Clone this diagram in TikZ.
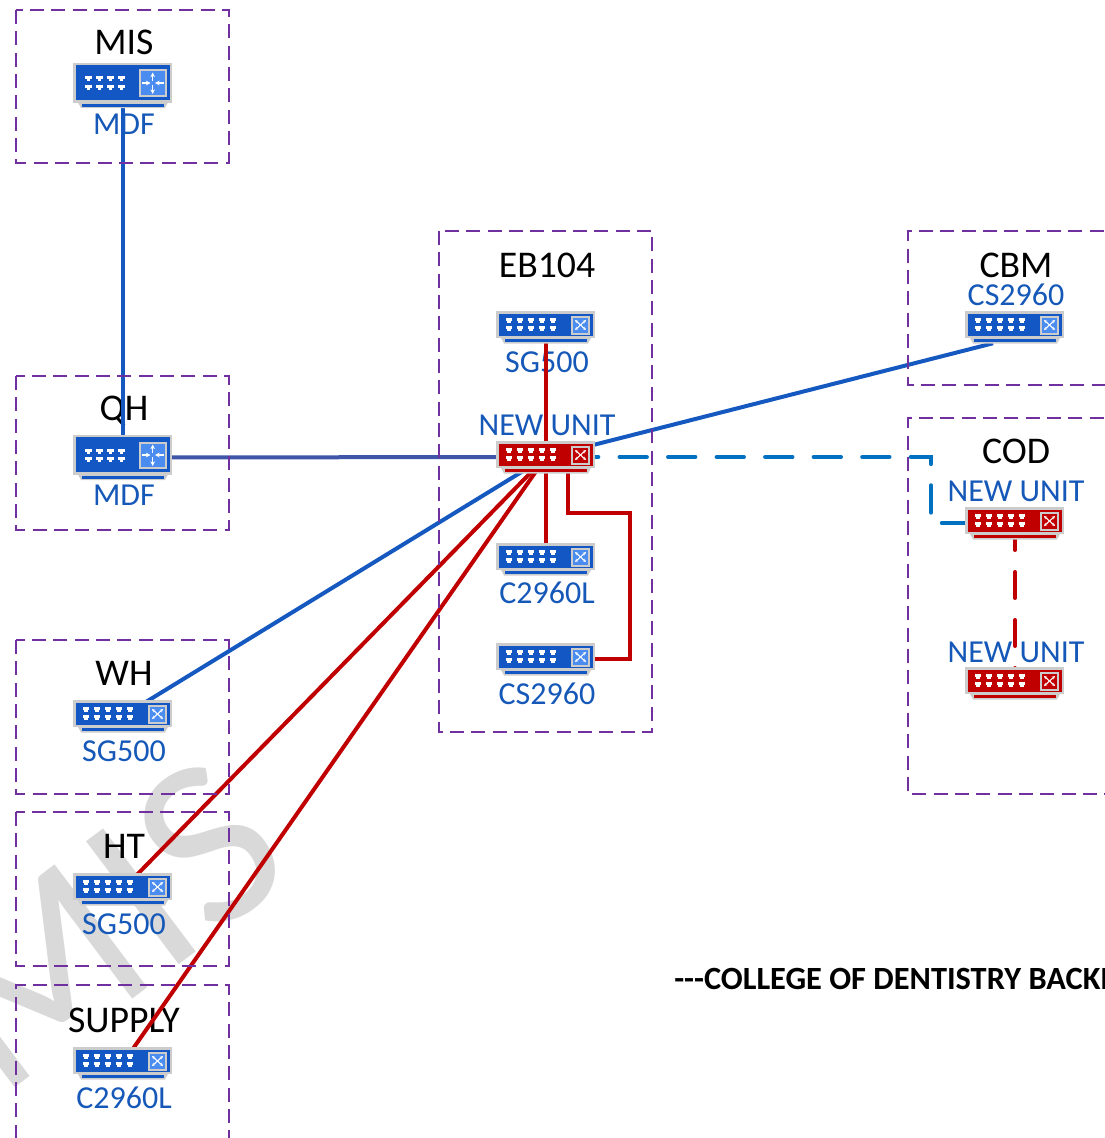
\documentclass[tikz,border=0pt]{standalone}
\usepackage{fontspec}
\setmainfont{Carlito}
\usetikzlibrary{arrows.meta}
\definecolor{devblue}{HTML}{1257C4}
\definecolor{devred}{HTML}{C00000}
\definecolor{devgray}{HTML}{CCCCCC}
\definecolor{iconblue}{HTML}{4A8CF0}
\definecolor{boxpurple}{HTML}{7030A0}
\definecolor{linkblue}{HTML}{1559C0}
\definecolor{trunkblue}{HTML}{3F55A8}
\definecolor{dashblue}{HTML}{0070C0}
\definecolor{textblue}{HTML}{1558B8}
\definecolor{wmgray}{HTML}{D9D9D9}
\pgfdeclarelayer{back}
\pgfdeclarelayer{links}
\pgfsetlayers{back,links,main}
\tikzset{
  x=0.75pt,y=-0.75pt,
  devframe/.style={minimum width=74.25pt,minimum height=24pt,inner sep=0pt},
  routerframe/.style={minimum width=74.25pt,minimum height=33.75pt,inner sep=0pt},
  roombox/.style={draw=boxpurple,line width=2.1pt,dash pattern=on 10.5pt off 5.5pt},
  roomname/.style={font=\fontsize{28.3pt}{30pt}\selectfont,text=black,inner sep=0pt},
  devlabel/.style={font=\fontsize{24pt}{27pt}\selectfont,text=textblue,inner sep=0pt},
  wire/.style={line width=3pt},
  bluewire/.style={wire,draw=linkblue},
  redwire/.style={wire,draw=devred},
  bluedash/.style={wire,draw=dashblue,line cap=round,dash pattern=on 20.5pt off 15.9pt,dash phase=17.65pt},
  reddash/.style={wire,draw=devred,line cap=round,dash pattern=on 19.5pt off 16.5pt,dash phase=35.25pt},
  iconarrow/.style={white,line width=0.8pt,-{Stealth[length=3.5pt,width=3.5pt]}},
}
\newcommand\portpair[2]{%
  \fill[white] (#1-3.4,#2) rectangle (#1+3.4,#2+3);
  \fill[white] (#1-1.7,#2+3) rectangle (#1+1.7,#2+5);
}
% \swdev{name}{x}{y}{body colour}{icon colour}
\newcommand\swdev[5]{%
  \node[devframe] (#1) at (#2,#3) {};
  \begin{scope}[shift={(#2,#3)}]
    \fill[devgray] (-45,11) -- (45,11) -- (42,16.5) -- (-42,16.5) -- cycle;
    \draw[devgray,line width=1.9pt,fill=#4] (-48.3,-14.5) rectangle (47.8,10);
    \draw[#4,line width=1.8pt] (-41,13.5) -- (41,13.5);
    \foreach \px in {-37,-26,-15,-4,7}{\portpair{\px}{-8.7}\portpair{\px}{-1.3}}
    \draw[devgray,line width=1.5pt,fill=#5] (25.5,-10.5) rectangle (43,6.5);
    \draw[iconarrow,{Stealth[length=2.5pt,width=2.5pt]}-{Stealth[length=2.5pt,width=2.5pt]}] (29,-7) -- (40,3);
    \draw[iconarrow,{Stealth[length=2.5pt,width=2.5pt]}-{Stealth[length=2.5pt,width=2.5pt]}] (29,3) -- (40,-7);
  \end{scope}
}
% \rtdev{name}{x}{y}
\newcommand\rtdev[3]{%
  \node[routerframe] (#1) at (#2,#3) {};
  \begin{scope}[shift={(#2,#3)}]
    \fill[devgray] (-45,17) -- (45,17) -- (42,22.5) -- (-42,22.5) -- cycle;
    \draw[devgray,line width=1.9pt,fill=devblue] (-48.3,-21.5) rectangle (48,16);
    \draw[devblue,line width=1.8pt] (-41,20) -- (41,20);
    \foreach \px in {-34.5,-23.5,-12.5,-1.5}{\portpair{\px}{-9}\portpair{\px}{-0.5}}
    \draw[devgray,line width=1.5pt,fill=iconblue] (17,-15) rectangle (42.5,10.5);
    \draw[iconarrow] (29.7,-4.5) -- (29.7,-13);
    \draw[iconarrow] (29.7,-0.5) -- (29.7,8.5);
    \draw[iconarrow] (19,-2.5) -- (27.5,-2.5);
    \draw[iconarrow] (40.5,-2.5) -- (32,-2.5);
  \end{scope}
}
\begin{document}
\begin{tikzpicture}
\useasboundingbox (0,0) rectangle (1105,1138);

% room outlines
\draw[roombox] (16,10) rectangle (229,163);
\draw[roombox] (16,376) rectangle (229,530);
\draw[roombox] (439,231) rectangle (652,732);
\draw[roombox] (1125,231) -- (908,231) -- (908,385) -- (1125,385);
\draw[roombox] (1125,418) -- (908,418) -- (908,794) -- (1125,794);
\draw[roombox] (16,640) rectangle (229,794);
\draw[roombox] (16,812) rectangle (229,966);
\draw[roombox] (16,1160) -- (16,985) -- (229,985) -- (229,1160);

% devices
\rtdev{mis}{123}{85.5}
\rtdev{qh}{123}{457.5}
\swdev{ebsg}{546}{327}{devblue}{iconblue}
\swdev{nu}{546}{457}{devred}{devred}
\swdev{ebc}{546}{559}{devblue}{iconblue}
\swdev{ebcs}{546}{659}{devblue}{iconblue}
\swdev{cbm}{1015}{327}{devblue}{iconblue}
\swdev{coda}{1015}{523}{devred}{devred}
\swdev{codb}{1015}{683}{devred}{devred}
\swdev{wh}{123}{716}{devblue}{iconblue}
\swdev{ht}{123}{889}{devblue}{iconblue}
\swdev{sup}{123}{1063}{devblue}{iconblue}

\begin{pgfonlayer}{back}
  \node[font=\fontsize{180pt}{180pt}\selectfont,text=wmgray,rotate=37,inner sep=0pt] (wm) at (103,925) {MIS};
  \node[roomname] (tmis) at (124,42) {MIS};
  \node[roomname] (tqh) at (124,411) {QH};
  \node[roomname] (teb) at (547,265) {EB104};
  \node[roomname] (tcbm) at (1016,265) {CBM};
  \node[roomname] (tcod) at (1016,451) {COD};
  \node[roomname] (twh) at (124,673) {WH};
  \node[roomname] (tht) at (124,846) {HT};
  \node[roomname] (tsup) at (124,1020) {SUPPLY};
  \node[devlabel] (lmis) at (124,124) {MDF};
  \node[devlabel] (lqh) at (124,495) {MDF};
  \node[devlabel] (lebsg) at (547,362) {SG500};
  \node[devlabel] (lnu) at (547,425) {NEW UNIT};
  \node[devlabel] (lebc) at (547,593) {C2960L};
  \node[devlabel] (lebcs) at (547,694) {CS2960};
  \node[devlabel] (lcbm) at (1016,295) {CS2960};
  \node[devlabel] (lcoda) at (1016,491) {NEW UNIT};
  \node[devlabel] (lcodb) at (1016,652) {NEW UNIT};
  \node[devlabel] (lwh) at (124,751) {SG500};
  \node[devlabel] (lht) at (124,924) {SG500};
  \node[devlabel] (lsup) at (124,1098) {C2960L};
  \node[anchor=west,inner sep=0pt,font=\fontsize{24.3pt}{27pt}\selectfont\bfseries,text=black] (note) at (674,979) {{-}{-}{-}COLLEGE OF DENTISTRY BACKE};
\end{pgfonlayer}

\begin{pgfonlayer}{links}
  \draw[bluewire] (mis.center) -- (qh.center);
  \draw[wire,draw=trunkblue] (qh.center) -- (nu.center);
  \draw[bluewire] (nu.center) -- ([xshift=-16.5pt]cbm.south);
  \draw[bluewire] (nu.center) -- (wh.center);
  \draw[redwire] (nu.center) -- (ht.center);
  \draw[redwire] (nu.center) -- (sup.center);
  \draw[redwire] (ebsg.center) -- (nu.center);
  \draw[redwire] (nu.center) -- (ebc.center);
  \coordinate (turnr) at (630,513);
  \draw[redwire] ([xshift=16.5pt]nu.south) |- (turnr) |- (ebcs.center);
  \coordinate (turnb) at (931,457);
  \draw[bluedash] (nu.center) -- (turnb) -- (turnb |- coda.center) -- (coda.center);
  \draw[reddash] (coda.center) -- (codb.center);
\end{pgfonlayer}
\end{tikzpicture}
\end{document}
